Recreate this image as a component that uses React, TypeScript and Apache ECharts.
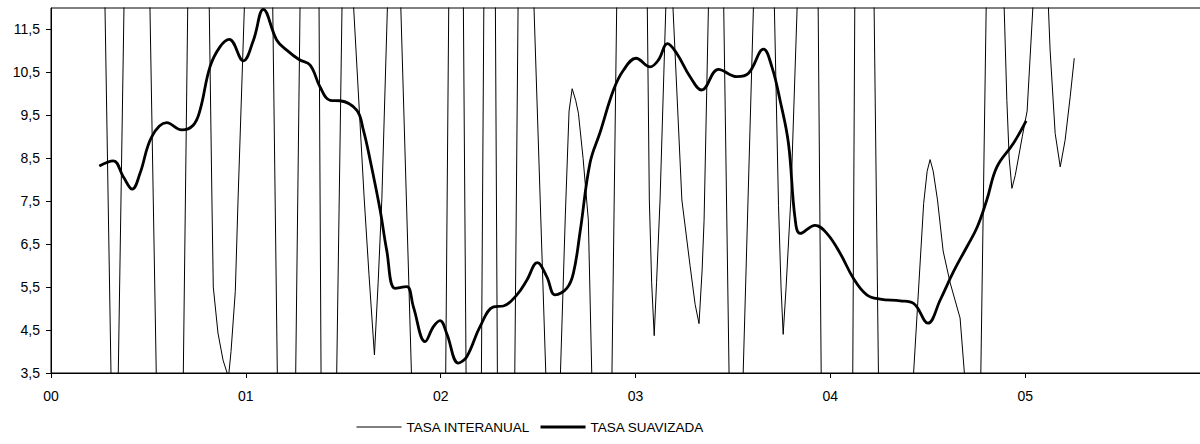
import React, { useEffect, useRef } from "react";
import * as echarts from "echarts";

// x positions in years since 2000 ("00" = 2000)
const xTickLabels = ["00", "01", "02", "03", "04", "05"];
const yTickValues = [3.5, 4.5, 5.5, 6.5, 7.5, 8.5, 9.5, 10.5, 11.5];
const seriesNames = ["TASA INTERANUAL", "TASA SUAVIZADA"];

// TASA INTERANUAL (thin, oscillating, mostly off-scale)
const interanualX = [0.248,0.327,0.438,0.622,0.753,0.826,0.833,0.857,0.883,0.911,0.924,0.946,0.960,1.098,1.210,1.345,1.408,1.506,1.607,1.632,1.660,1.679,1.698,1.761,1.987,2.081,2.172,2.254,2.325,2.415,2.578,2.640,2.659,2.675,2.693,2.707,2.731,2.758,2.841,2.990,3.071,3.083,3.096,3.108,3.126,3.170,3.238,3.280,3.306,3.326,3.342,3.352,3.420,3.505,3.667,3.734,3.747,3.758,3.773,3.797,3.916,4.050,4.157,4.277,4.479,4.497,4.512,4.528,4.550,4.579,4.615,4.666,4.688,4.759,4.831,4.906,4.918,4.932,4.949,4.985,5.010,5.086,5.128,5.154,5.180,5.205,5.231,5.252];
const interanualY = [20.1,-1.8,30.4,-18.0,31.3,7.53,5.5,4.43,3.8,3.4,4.0,5.4,7.53,26.6,-14.1,37.6,-14.8,15.9,7.6,5.8,3.92,5.6,7.53,17.4,-17.9,33.8,-22.0,34.3,-24.6,21.0,-1.9,7.2,9.6,10.12,9.85,9.55,8.5,7.06,-9.9,42.4,7.53,5.6,4.37,5.6,7.53,14.2,7.53,6.0,5.1,4.65,5.9,7.06,22.2,-4.2,22.0,7.4,5.5,4.4,5.5,7.53,23.9,-50,37.9,-8.0,7.45,8.2,8.47,8.2,7.53,6.34,5.6,4.78,3.5,-0.64,21.6,9.85,8.5,7.8,8.1,9.0,9.6,15.8,11.02,9.08,8.3,8.92,9.93,10.83];

// TASA SUAVIZADA (thick, smooth)
const suavizadaX = [0.248,0.320,0.371,0.417,0.457,0.517,0.594,0.671,0.730,0.765,0.816,0.868,0.915,0.987,1.039,1.090,1.159,1.210,1.273,1.330,1.381,1.433,1.483,1.569,1.603,1.638,1.689,1.723,1.766,1.826,1.860,1.920,1.963,1.997,2.031,2.091,2.134,2.202,2.271,2.322,2.391,2.442,2.496,2.545,2.587,2.647,2.681,2.716,2.767,2.818,2.887,2.938,3.003,3.075,3.118,3.164,3.212,3.280,3.340,3.426,3.520,3.580,3.657,3.700,3.742,3.785,3.819,3.845,3.922,3.982,4.050,4.119,4.187,4.256,4.359,4.427,4.501,4.564,4.632,4.701,4.754,4.803,4.855,4.940,5.005];
const suavizadaY = [8.32,8.44,8.07,7.78,8.15,9.0,9.33,9.16,9.27,9.62,10.63,11.1,11.27,10.77,11.25,11.97,11.25,11.02,10.8,10.67,10.16,9.85,9.84,9.62,9.16,8.46,7.3,6.36,5.47,5.51,5.04,4.23,4.58,4.72,4.42,3.73,3.88,4.58,5.04,5.06,5.32,5.66,6.07,5.74,5.32,5.47,5.82,6.8,8.4,9.1,10.09,10.55,10.83,10.63,10.79,11.17,10.94,10.4,10.09,10.57,10.4,10.48,11.04,10.63,9.85,8.85,7.1,6.75,6.94,6.75,6.29,5.7,5.32,5.22,5.18,5.12,4.66,5.2,5.86,6.44,6.9,7.53,8.3,8.85,9.37];

const FONT = "'Liberation Sans', Arial, sans-serif";

export default function App() {
  const ref = useRef<HTMLDivElement>(null);

  useEffect(() => {
    if (!ref.current) return;
    const chart = echarts.init(ref.current, null, { renderer: "svg" });
    const interData = interanualX.map((x, i) => [x, interanualY[i]]);
    const suavData = suavizadaX.map((x, i) => [x, suavizadaY[i]]);

    chart.setOption({
      animation: false,
      backgroundColor: "#ffffff",
      textStyle: { fontFamily: FONT, color: "#000" },
      grid: {
        left: 51,
        top: 8,
        width: 1169,
        bottom: 71,
        outerBoundsMode: "none",
        containLabel: false,
        show: true,
        borderColor: "#000",
        borderWidth: 1,
        backgroundColor: "transparent",
      },
      legend: {
        data: [
          { name: seriesNames[0], lineStyle: { width: 1, color: "#000" } },
          { name: seriesNames[1], lineStyle: { width: 3, color: "#000" } },
        ],
        left: 351,
        top: 415,
        itemWidth: 45,
        itemHeight: 14,
        itemGap: 9,
        itemStyle: { opacity: 0 },
        textStyle: { fontFamily: FONT, fontSize: 13.5, color: "#000" },
      },
      xAxis: {
        type: "value",
        min: 0,
        max: 6,
        interval: 1,
        axisLine: { onZero: false, lineStyle: { color: "#000", width: 1 } },
        axisTick: { show: true, inside: false, length: 5, lineStyle: { color: "#000" } },
        axisLabel: {
          margin: 16,
          fontSize: 14,
          fontFamily: FONT,
          color: "#000",
          formatter: (v: number) => xTickLabels[Math.round(v)] ?? "",
        },
        splitLine: { show: false },
      },
      yAxis: {
        type: "value",
        min: 3.5,
        max: 12,
        axisLine: { show: true, onZero: false, lineStyle: { color: "#000", width: 1 } },
        axisTick: {
          show: true,
          inside: false,
          length: 5,
          customValues: yTickValues,
          lineStyle: { color: "#000" },
        },
        axisLabel: {
          margin: 11,
          fontSize: 14,
          fontFamily: FONT,
          color: "#000",
          customValues: yTickValues,
          formatter: (v: number) => v.toFixed(1).replace(".", ","),
        },
        splitLine: { show: false },
      },
      series: [
        {
          name: seriesNames[0],
          type: "line",
          data: interData,
          symbol: "none",
          smooth: false,
          clip: true,
          lineStyle: { color: "#000", width: 1 },
          itemStyle: { color: "#000" },
          z: 2,
        },
        {
          name: seriesNames[1],
          type: "line",
          data: suavData,
          symbol: "none",
          smooth: 0.4,
          clip: true,
          lineStyle: { color: "#000", width: 2.8 },
          itemStyle: { color: "#000" },
          z: 3,
        },
      ],
    });
    return () => chart.dispose();
  }, []);

  return (
    <div
      ref={ref}
      style={{ position: "fixed", left: 0, top: 0, width: 1200, height: 444, background: "#fff" }}
    />
  );
}
